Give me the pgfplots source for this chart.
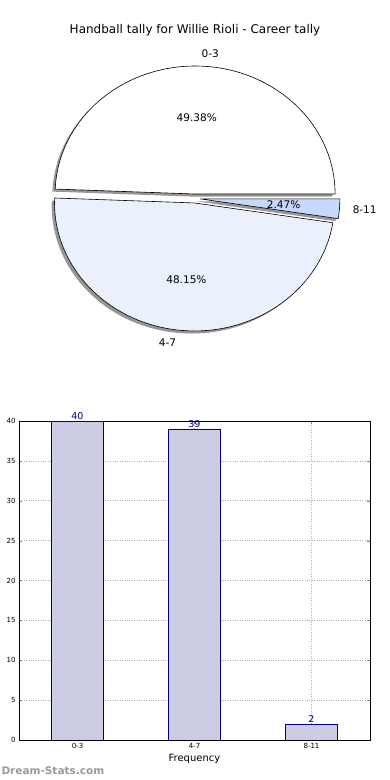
\documentclass[border=0pt]{standalone}
\usepackage{fontspec}
\setmainfont{DejaVu Sans}
\usepackage{pgfplots}
\pgfplotsset{compat=1.18}
\definecolor{sliceA}{HTML}{FFFFFF}
\definecolor{sliceB}{HTML}{EAF1FD}
\definecolor{sliceC}{HTML}{C5D9FD}
\definecolor{barfill}{rgb}{0.8,0.8,0.9}
\definecolor{baredge}{HTML}{000080}
% data: counts per category
\def\vA{40}\def\vB{39}\def\vC{2}
\pgfmathsetmacro{\tot}{\vA+\vB+\vC}
\pgfmathsetmacro{\aA}{0}
\pgfmathsetmacro{\aB}{360*\vA/\tot}
\pgfmathsetmacro{\aC}{\aB+360*\vB/\tot}
\pgfmathsetmacro{\aD}{360}
\pgfmathsetmacro{\mA}{(\aA+\aB)/2}
\pgfmathsetmacro{\mB}{(\aB+\aC)/2}
\pgfmathsetmacro{\mC}{(\aC+\aD)/2}
\pgfmathsetmacro{\pA}{100*\vA/\tot}
\pgfmathsetmacro{\pB}{100*\vB/\tot}
\pgfmathsetmacro{\pC}{100*\vC/\tot}
\def\ex{0.035}
\newcommand{\pct}[1]{\pgfmathprintnumber[fixed,fixed zerofill,precision=2,assume math mode=true]{#1}\%}
% wedge macro: #1 start, #2 end, #3 mid, #4 style, #5 offset x, #6 offset y
\newcommand{\pieslice}[6]{%
  \filldraw[#4] (axis cs:{\ex*cos(#3)+#5},{\ex*sin(#3)+#6}) --
    (axis cs:{\ex*cos(#3)+#5+cos(#1)},{\ex*sin(#3)+#6+sin(#1)})
    arc[start angle=#1, end angle=#2, x radius=140pt, y radius=128pt] -- cycle;}
\begin{document}
\begin{tikzpicture}
\useasboundingbox (0pt,0pt) rectangle (390pt,780pt);
\node[font=\fontsize{12}{14}\selectfont] at (195pt,750pt) {Handball tally for Willie Rioli - Career tally};
% pie
\begin{axis}[at={(195pt,581.5pt)}, anchor=center, x=140pt, y=128pt,
  xmin=-1.25, xmax=1.25, ymin=-1.25, ymax=1.25, hide axis, clip=false]
  \pieslice{\aA}{\aB}{\mA}{fill=black!55, draw=none, opacity=0.75}{-0.02}{-0.02}
  \pieslice{\aB}{\aC}{\mB}{fill=black!55, draw=none, opacity=0.75}{-0.02}{-0.02}
  \pieslice{\aC}{\aD}{\mC}{fill=black!55, draw=none, opacity=0.75}{-0.02}{-0.02}
  \pieslice{\aA}{\aB}{\mA}{fill=sliceA, draw=black, line width=0.6pt}{0}{0}
  \pieslice{\aB}{\aC}{\mB}{fill=sliceB, draw=black, line width=0.6pt}{0}{0}
  \pieslice{\aC}{\aD}{\mC}{fill=sliceC, draw=black, line width=0.6pt}{0}{0}
  \node[anchor=west, font=\fontsize{10.5}{12}\selectfont] at (axis cs:{(\ex+1.1)*cos(\mA)},{(\ex+1.1)*sin(\mA)}) {0-3};
  \node[anchor=east, font=\fontsize{10.5}{12}\selectfont] at (axis cs:{(\ex+1.1)*cos(\mB)},{(\ex+1.1)*sin(\mB)}) {4-7};
  \node[anchor=west, font=\fontsize{10.5}{12}\selectfont] at (axis cs:{(\ex+1.07)*cos(\mC)},{(\ex+1.1)*sin(\mC)}) {8-11};
  \node[font=\fontsize{10.5}{12}\selectfont] at (axis cs:{(\ex+0.6)*cos(\mA)},{(\ex+0.6)*sin(\mA)}) {\pct{\pA}};
  \node[font=\fontsize{10.5}{12}\selectfont] at (axis cs:{(\ex+0.6)*cos(\mB)},{(\ex+0.6)*sin(\mB)}) {\pct{\pB}};
  \node[font=\fontsize{10.5}{12}\selectfont] at (axis cs:{(\ex+0.6)*cos(\mC)},{(\ex+0.6)*sin(\mC)}) {\pct{\pC}};
\end{axis}
% bars
\begin{axis}[at={(19pt,40pt)}, anchor=south west, scale only axis,
  width=351pt, height=319pt,
  xmin=-0.5, xmax=2.5, ymin=0, ymax=40,
  xtick=data, xticklabels={0-3,4-7,8-11},
  ytick={0,5,...,40},
  tick pos=both, tick align=inside, major tick length=3pt,
  ticklabel style={font=\fontsize{7}{8}\selectfont},
  /pgf/number format/assume math mode=true,
  grid=major, major grid style={dotted, gray!60, line width=0.6pt},
  axis line style={line width=0.6pt},
  xlabel={Frequency}, xlabel style={font=\fontsize{10}{11}\selectfont, yshift=1pt},
  nodes near coords, nodes near coords style={font=\fontsize{9.5}{10}\selectfont, text=baredge, yshift=-2pt},
  ]
  \addplot[ybar, bar width=0.44, fill=barfill, draw=baredge, line width=0.6pt]
    coordinates {(0,40) (1,39) (2,2)};
\end{axis}
\node[anchor=west, text=black!40, font=\fontsize{10.5}{12}\selectfont\bfseries] at (-2pt,9pt) {Dream-Stats.com};
\end{tikzpicture}
\end{document}
